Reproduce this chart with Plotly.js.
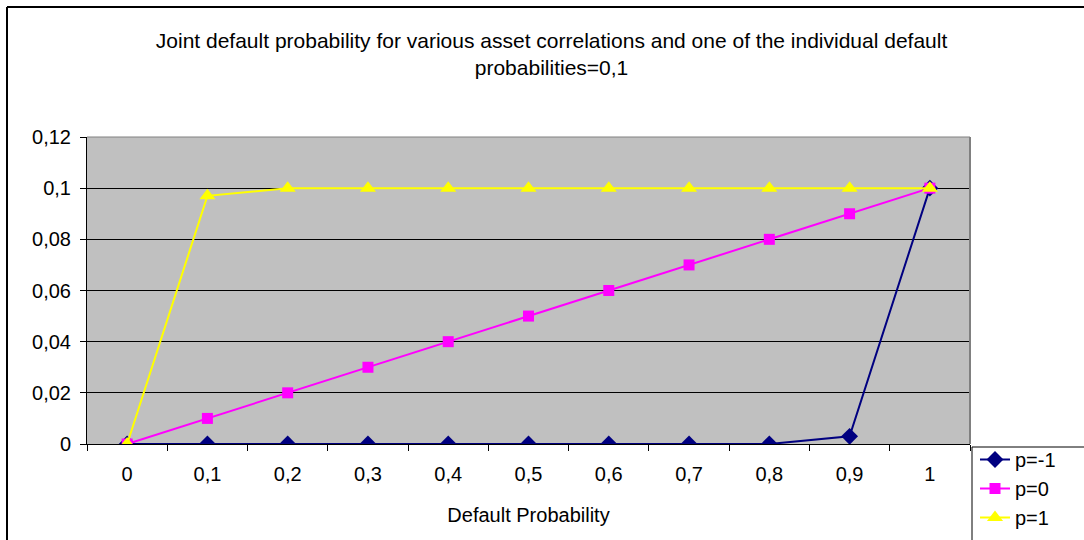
<!DOCTYPE html>
<html>
<head>
<meta charset="utf-8">
<script src="https://cdn.plot.ly/plotly-3.0.1.min.js"></script>
<style>html,body{margin:0;padding:0;background:#fff;}</style>
</head>
<body>
<div id="chart" style="width:1084px;height:540px;"></div>
<script>
const categories = ["0","0,1","0,2","0,3","0,4","0,5","0,6","0,7","0,8","0,9","1"];
const seriesNames = ["p=-1","p=0","p=1"];
const pMinus1 = [0,0,0,0,0,0,0,0,0,0.003,0.1];
const p0 = [0,0.01,0.02,0.03,0.04,0.05,0.06,0.07,0.08,0.09,0.1];
const p1 = [0,0.097,0.1,0.1,0.1,0.1,0.1,0.1,0.1,0.1,0.1];
const titleText = "Joint default probability for various asset correlations and one of the individual default<br>probabilities=0,1";
const xTitle = "Default Probability";

const font = "Liberation Sans, Arial, sans-serif";
const traces = [
  {x: categories, y: pMinus1, name: seriesNames[0], type: "scatter", mode: "lines+markers",
   line: {color: "#000080", width: 2}, marker: {symbol: "diamond", size: 13, color: "#000080"}},
  {x: categories, y: p0, name: seriesNames[1], type: "scatter", mode: "lines+markers",
   line: {color: "#FF00FF", width: 2}, marker: {symbol: "square", size: 11, color: "#FF00FF"}},
  {x: categories, y: p1, name: seriesNames[2], type: "scatter", mode: "lines+markers",
   line: {color: "#FFFF00", width: 2}, marker: {symbol: "triangle-up", size: 14, color: "#FFFF00"}}
];

const L = 87, R = 970, T = 137, B = 444, W = 1084, H = 540;
const px = v => (v - L) / (R - L);
const py = v => (B - v) / (B - T);

const layout = {
  width: W, height: H,
  margin: {l: L, r: W - R, t: T, b: H - B, pad: 0, autoexpand: false},
  paper_bgcolor: "#ffffff",
  plot_bgcolor: "#C0C0C0",
  separators: ", ",
  font: {family: font, color: "#000", size: 20},
  title: {text: titleText, font: {family: font, size: 21, color: "#000"}, x: 0.5088, xanchor: "center", y: 1 - 48/540, yanchor: "middle"},
  xaxis: {
    type: "category", range: [-0.5, 10.5], tickson: "boundaries",
    ticks: "outside", ticklen: 6, tickcolor: "#000", tickwidth: 1,
    showline: true, linecolor: "#000", linewidth: 1,
    showgrid: false, zeroline: false, automargin: false,
    ticklabelstandoff: 12,
    tickfont: {family: font, size: 20},
    title: {text: xTitle, font: {family: font, size: 20}, standoff: 23}
  },
  yaxis: {
    range: [0, 0.12], dtick: 0.02, tick0: 0,
    ticks: "outside", ticklen: 6, tickcolor: "#000", tickwidth: 1,
    showline: true, linecolor: "#000", linewidth: 1,
    showgrid: true, gridcolor: "#000", gridwidth: 1, zeroline: false, automargin: false,
    ticklabelstandoff: 5,
    tickfont: {family: font, size: 20}
  },
  showlegend: true,
  legend: {x: px(975), y: py(440), xanchor: "left", yanchor: "top",
    bgcolor: "rgba(0,0,0,0)", borderwidth: 0, font: {family: font, size: 20},
    tracegroupgap: 0},
  shapes: [
    {type: "line", xref: "paper", yref: "paper", x0: 1, x1: 1, y0: 0, y1: 1, line: {color: "#808080", width: 2}},
    {type: "line", xref: "paper", yref: "paper", x0: 0, x1: 1, y0: 1, y1: 1, line: {color: "#808080", width: 1}},
    {type: "line", xref: "paper", yref: "paper", x0: px(7), x1: px(7), y0: py(545), y1: py(7), line: {color: "#000", width: 2}},
    {type: "line", xref: "paper", yref: "paper", x0: px(7), x1: px(1090), y0: py(7), y1: py(7), line: {color: "#000", width: 2}},
    {type: "rect", xref: "paper", yref: "paper", x0: px(972), x1: px(1095), y0: py(545), y1: py(447), line: {color: "#000", width: 1}, fillcolor: "rgba(0,0,0,0)"}
  ]
};

Plotly.newPlot("chart", traces, layout, {displayModeBar: false, staticPlot: true});
</script>
</body>
</html>
